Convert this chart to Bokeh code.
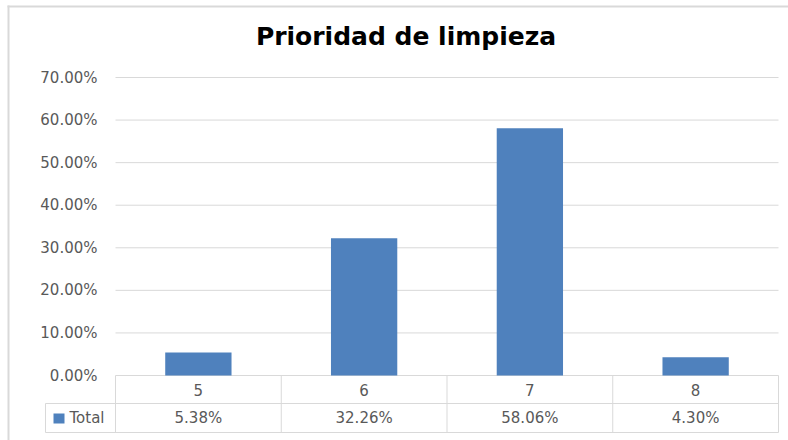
from bokeh.plotting import figure
from bokeh.models import Range1d, FixedTicker, NumeralTickFormatter
from bokeh.embed import file_html
from bokeh.resources import INLINE
from bokeh.core.properties import value

# ---------------- data ----------------
title_text = "Prioridad de limpieza"
categories = ["5", "6", "7", "8"]
values = [0.0538, 0.3226, 0.5806, 0.0430]
value_labels = ["5.38%", "32.26%", "58.06%", "4.30%"]
series_name = "Total"
y_ticks = [0.0, 0.1, 0.2, 0.3, 0.4, 0.5, 0.6, 0.7]

# ---------------- style / layout ----------------
BLUE = "#4F81BD"
GRID = "#D9D9D9"
TEXT = "#595959"
FONT = "DejaVu Sans"

W, H = 788, 440
PLOT_LEFT_PX = 115          # left edge of plot area (px)
SLOT_PX = 165.75            # width of one category slot (px)
ZERO_PX = 375               # pixel row of 0 %
TOP_PX = 77                 # pixel row of top tick
PX_PER_Y = (ZERO_PX - TOP_PX) / max(y_ticks)


def xd(px):
    return (px - PLOT_LEFT_PX) / SLOT_PX


def yd(py):
    return (ZERO_PX - py) / PX_PER_Y


n = len(categories)
centers = [i + 0.5 for i in range(n)]

p = figure(width=W, height=H,
           x_range=Range1d(xd(0), xd(W)),
           y_range=Range1d(yd(H), yd(0)),
           x_axis_location=None, y_axis_location="left",
           min_border=0, title=None,
           output_backend="svg", toolbar_location=None)
p.outline_line_color = None
p.background_fill_color = "white"
p.border_fill_color = "white"
p.xgrid.visible = False
p.ygrid.visible = False

# y axis (pinned to the left edge of the plot area)
ya = p.yaxis[0]
ya.fixed_location = 0
ya.ticker = FixedTicker(ticks=y_ticks)
ya.formatter = NumeralTickFormatter(format="0.00%")
ya.axis_line_color = None
ya.major_tick_line_color = None
ya.minor_tick_line_color = None
ya.major_tick_out = 0
ya.major_tick_in = 0
ya.major_label_standoff = 18
ya.major_label_text_font = FONT
ya.major_label_text_font_size = "15px"
ya.major_label_text_color = TEXT

# chart-area border (left and top)
p.quad(left=[xd(7), xd(7)], right=[xd(9), xd(W)], top=[yd(5), yd(5)], bottom=[yd(H), yd(7)],
       fill_color=GRID, line_color=None)

# title
p.text(x=[xd(405.5)], y=[yd(36)], text=[title_text],
       text_align="center", text_baseline="middle",
       text_font=value(FONT), text_font_style="bold",
       text_font_size="25px", text_color="black")

# gridlines
p.segment(x0=[0] * len(y_ticks), y0=y_ticks, x1=[n] * len(y_ticks), y1=y_ticks,
          line_color=GRID, line_width=1)

# bars
p.vbar(x=centers, top=values, width=0.4, fill_color=BLUE, line_color=None)

# ---------------- data table ----------------
row_split = yd(403)
row_bottom = yd(432)
cat_label_y = yd(389.3)
val_label_y = yd(417.7)
table_left = xd(45)

bounds = list(range(n + 1))
p.segment(x0=bounds, y0=[0] * (n + 1), x1=bounds, y1=[row_bottom] * (n + 1),
          line_color=GRID, line_width=1)
p.segment(x0=[table_left, table_left, table_left], y0=[row_split, row_bottom, row_split],
          x1=[n, n, table_left], y1=[row_split, row_bottom, row_bottom],
          line_color=GRID, line_width=1)

p.text(x=centers, y=[cat_label_y] * n, text=categories,
       text_align="center", text_baseline="middle",
       text_font=value(FONT), text_font_size="15px", text_color=TEXT)
p.text(x=centers, y=[val_label_y] * n, text=value_labels,
       text_align="center", text_baseline="middle",
       text_font=value(FONT), text_font_size="15px", text_color=TEXT)

# legend key + series name
p.quad(left=[xd(53)], right=[xd(64)], top=[yd(413)], bottom=[yd(423)],
       fill_color=BLUE, line_color=None)
p.text(x=[xd(69)], y=[val_label_y], text=[series_name],
       text_align="left", text_baseline="middle",
       text_font=value(FONT), text_font_size="15px", text_color=TEXT)

open("out.html", "w").write(file_html(p, INLINE))
